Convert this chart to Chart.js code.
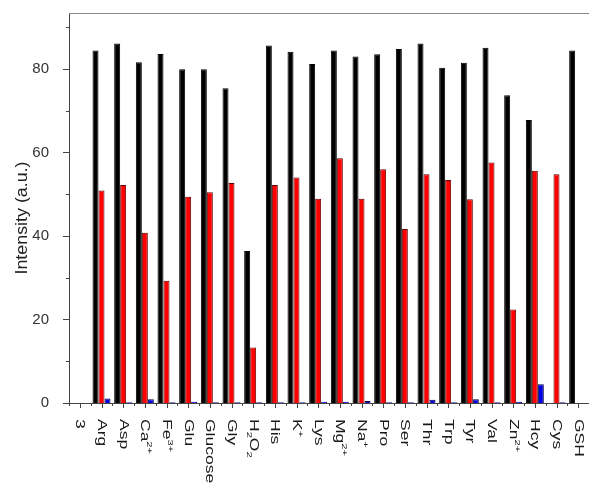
<!DOCTYPE html>
<html><head><meta charset="utf-8">
<script src="https://cdn.jsdelivr.net/npm/chart.js@4/dist/chart.umd.min.js"></script>
<style>html,body{margin:0;padding:0;background:#fff}</style>
</head><body>
<canvas id="c" width="589" height="483"></canvas>
<script>
// Categories (markup: ^{..} superscript, _{..} subscript)
const categories = ['3','Arg','Asp','Ca^{2+}','Fe^{3+}','Glu','Glucose','Gly','H_{2}O_{2}','His','K^{+}','Lys','Mg^{2+}','Na^{+}','Pro','Ser','Thr','Trp','Tyr','Val','Zn^{2+}','Hcy','Cys','GSH'];
const blackValues = [0, 84.4, 86.1, 81.6, 83.6, 79.9, 79.9, 75.4, 36.4, 85.6, 84.1, 81.2, 84.4, 83.0, 83.5, 84.8, 86.1, 80.3, 81.5, 85.1, 73.7, 67.8, 0, 84.4];
const redValues   = [0, 50.9, 52.2, 40.8, 29.3, 49.4, 50.5, 52.7, 13.3, 52.2, 54.0, 48.9, 58.6, 48.9, 56.0, 41.7, 54.8, 53.4, 48.8, 57.6, 22.4, 55.6, 54.8, 0];
const blueValues  = [0, 1.1, 0.2, 0.9, 0.2, 0.3, 0.2, 0.2, 0.2, 0.2, 0.2, 0.3, 0.3, 0.5, 0.2, 0.2, 0.8, 0.2, 0.9, 0.2, 0.3, 4.5, 0.2, 0];
const yTicks = [0, 20, 40, 60, 80];
const yMinorTicks = [10, 30, 50, 70, 90];
const yMax = 93.4;
const yTitle = 'Intensity (a.u.)';

const FONT = "'Liberation Sans', Arial, sans-serif";

function parseLabel(s) {
  const parts = [];
  const re = /(\^\{[^}]*\}|_\{[^}]*\})/g;
  let last = 0, m;
  while ((m = re.exec(s)) !== null) {
    if (m.index > last) parts.push({t: s.slice(last, m.index), k: 'n'});
    parts.push({t: m[0].slice(2, -1), k: m[0][0] === '^' ? 'sup' : 'sub'});
    last = re.lastIndex;
  }
  if (last < s.length) parts.push({t: s.slice(last), k: 'n'});
  return parts;
}

function drawLabel(ctx, text, px, py) {
  ctx.save();
  ctx.translate(px, py);
  ctx.rotate(Math.PI / 2);
  ctx.scale(1.4, 1);
  ctx.textBaseline = 'middle';
  ctx.textAlign = 'left';
  ctx.fillStyle = '#1a1a1a';
  let cx = 0;
  parseLabel(text).forEach(p => {
    if (p.k === 'n') {
      ctx.font = '12.5px ' + FONT;
      ctx.fillText(p.t, cx, 0);
    } else {
      ctx.font = '8px ' + FONT;
      ctx.fillText(p.t, cx, p.k === 'sup' ? -4 : 4);
    }
    cx += ctx.measureText(p.t).width;
  });
  ctx.restore();
}

const axisDecor = {
  id: 'axisDecor',
  afterDraw(chart) {
    const {ctx, chartArea: a, scales: {x, y}} = chart;
    ctx.save();
    ctx.lineWidth = 1;
    ctx.strokeStyle = '#888';
    ctx.beginPath();
    ctx.moveTo(a.left, Math.round(a.top) + 0.5);
    ctx.lineTo(a.right, Math.round(a.top) + 0.5);
    ctx.stroke();
    ctx.strokeStyle = '#444';
    const line = (x1, y1, x2, y2) => { ctx.beginPath(); ctx.moveTo(x1, y1); ctx.lineTo(x2, y2); ctx.stroke(); };
    yTicks.forEach(v => { const py = Math.round(y.getPixelForValue(v)) + 0.5; line(a.left - 6, py, a.left, py); });
    yMinorTicks.forEach(v => { const py = Math.round(y.getPixelForValue(v)) + 0.5; line(a.left - 3, py, a.left, py); });
    categories.forEach((c, i) => {
      const px = Math.round(x.getPixelForTick(i)) + 0.5;
      line(px, a.bottom, px, a.bottom + 5);
      const pb = Math.round(x.getPixelForValue(i - 0.5)) + 0.5;
      line(pb, a.bottom, pb, a.bottom + 3);
    });
    categories.forEach((c, i) => {
      drawLabel(ctx, c, x.getPixelForTick(i), a.bottom + 16);
    });
    // y-axis title
    ctx.save();
    ctx.translate(22, (a.top + a.bottom) / 2 + 10);
    ctx.rotate(-Math.PI / 2);
    ctx.scale(1.05, 1);
    ctx.font = '17px ' + FONT;
    ctx.fillStyle = '#222';
    ctx.textAlign = 'center';
    ctx.textBaseline = 'middle';
    ctx.fillText(yTitle, 0, 0);
    ctx.restore();
    ctx.restore();
  }
};

new Chart(document.getElementById('c'), {
  type: 'bar',
  data: {
    labels: categories,
    datasets: [
      {data: blackValues, backgroundColor: '#000', borderColor: '#000', borderWidth: 1},
      {data: redValues, backgroundColor: '#ff0000', borderColor: '#600000', borderWidth: 1},
      {data: blueValues, backgroundColor: '#0000e0', borderColor: '#000040', borderWidth: 1}
    ]
  },
  options: {
    responsive: false,
    devicePixelRatio: 1,
    animation: false,
    layout: {padding: {left: 0, top: 13, right: 0, bottom: 80}},
    datasets: {bar: {barPercentage: 1, categoryPercentage: 0.83}},
    plugins: {legend: {display: false}, tooltip: {enabled: false}},
    scales: {
      x: {
        offset: true,
        grid: {display: false},
        border: {display: true, color: '#444', width: 1},
        ticks: {display: false},
        afterFit: s => { s.height = 0; s.paddingLeft = 0; s.paddingRight = 0; }
      },
      y: {
        min: 0, max: yMax,
        afterBuildTicks: s => { s.ticks = yTicks.map(v => ({value: v})); },
        afterFit: s => { s.width = 69; s.paddingTop = 0; s.paddingBottom = 0; },
        grid: {display: false},
        border: {display: true, color: '#444', width: 1},
        ticks: {padding: 12, color: '#333', font: {family: FONT, size: 15}},
        title: {display: false, text: yTitle}
      }
    }
  },
  plugins: [axisDecor]
});
</script>
</body></html>
